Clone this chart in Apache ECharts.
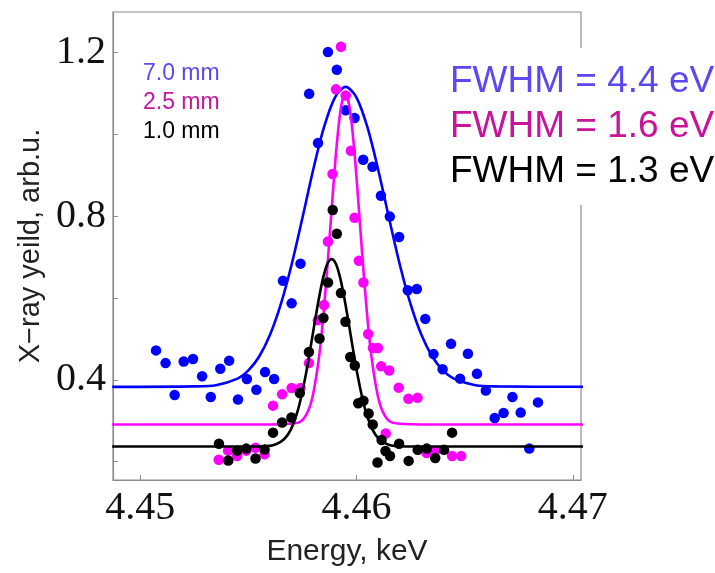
<!DOCTYPE html>
<html>
<head>
<meta charset="utf-8">
<script src="https://cdn.jsdelivr.net/npm/echarts@6/dist/echarts.min.js"></script>
<style>
html,body{margin:0;padding:0;background:#fff;}
#chart{width:715px;height:573px;}
</style>
</head>
<body>
<div id="chart"></div>
<script>
// ---- tick values ----
const xTickValues = [4.45, 4.46, 4.47];
const yTickValues = [0.2, 0.4, 0.6, 0.8, 1.0, 1.2];
const yLabelValues = [0.4, 0.8, 1.2];

// ---- legend / annotation text ----
const seriesNames = ['7.0 mm', '2.5 mm', '1.0 mm'];
const fwhmLabels = ['FWHM = 4.4 eV', 'FWHM = 1.6 eV', 'FWHM = 1.3 eV'];

// ---- measured points: 7.0 mm (blue) ----
const blueDotX = [4.45073,4.45117,4.45159,4.45201,4.45244,4.45286,4.45326,4.45370,4.45411,4.45452,4.45493,4.45537,4.45577,4.45619,4.45660,4.45700,4.45741,4.45781,4.45822,4.45868,4.45909,4.45950,4.45991,4.46031,4.46074,4.46113,4.46154,4.46197,4.46237,4.46279,4.46318,4.46356,4.46398,4.46437,4.46479,4.46515,4.46557,4.46598,4.46639,4.46680,4.46721,4.46759,4.46799,4.46839];
const blueDotY = [0.472,0.441,0.363,0.445,0.451,0.409,0.358,0.427,0.447,0.352,0.402,0.376,0.419,0.402,0.642,0.587,0.684,1.099,0.979,1.201,1.158,1.059,1.040,0.938,0.921,0.850,0.799,0.749,0.619,0.622,0.549,0.463,0.426,0.488,0.403,0.464,0.415,0.374,0.307,0.319,0.358,0.320,0.232,0.345];

// ---- measured points: 2.5 mm (magenta) ----
const magDotX = [4.45363,4.45406,4.45448,4.45490,4.45533,4.45575,4.45614,4.45656,4.45700,4.45741,4.45780,4.45821,4.45850,4.45868,4.45889,4.45905,4.45928,4.45950,4.45974,4.45991,4.46011,4.46032,4.46054,4.46076,4.46099,4.46114,4.46135,4.46151,4.46195,4.46240,4.46282,4.46324,4.46364,4.46442,4.46484];
const magDotY = [0.205,0.227,0.214,0.227,0.234,0.218,0.337,0.365,0.380,0.380,0.441,0.546,0.583,0.738,0.903,1.110,1.214,1.095,0.960,0.796,0.691,0.638,0.512,0.478,0.478,0.433,0.269,0.423,0.381,0.354,0.356,0.221,0.226,0.214,0.214];

// ---- measured points: 1.0 mm (black) ----
const blkDotX = [4.45364,4.45407,4.45448,4.45490,4.45533,4.45575,4.45614,4.45656,4.45699,4.45738,4.45780,4.45829,4.45847,4.45868,4.45890,4.45909,4.45928,4.45949,4.45971,4.45992,4.46008,4.46032,4.46056,4.46075,4.46097,4.46116,4.46134,4.46155,4.46197,4.46241,4.46283,4.46325,4.46364,4.46405,4.46442];
const blkDotY = [0.244,0.203,0.227,0.232,0.208,0.230,0.271,0.296,0.308,0.368,0.468,0.501,0.551,0.638,0.815,0.757,0.612,0.542,0.456,0.435,0.343,0.349,0.318,0.291,0.198,0.253,0.226,0.214,0.244,0.202,0.229,0.232,0.209,0.229,0.271];

// ---- fitted curves ----
const blueFitX = [4.4487,4.4525,4.4535,4.4545,4.4550,4.4555,4.4560,4.4565,4.4570,4.4575,4.4580,4.4585,4.4590,4.4595,4.4600,4.4605,4.4610,4.4615,4.4620,4.4625,4.4630,4.4635,4.4640,4.4645,4.4655,4.4665,4.4705];
const blueFitY = [0.383,0.384,0.387,0.403,0.423,0.457,0.510,0.585,0.682,0.796,0.914,1.018,1.090,1.116,1.090,1.018,0.914,0.796,0.682,0.585,0.510,0.457,0.423,0.403,0.387,0.384,0.383];

const magFitX = [4.4487,4.4560,4.45728,4.45768,4.45798,4.45828,4.45848,4.45868,4.45888,4.45908,4.45928,4.45948,4.45968,4.45988,4.46008,4.46028,4.46048,4.46068,4.46098,4.46128,4.46168,4.4630,4.4705];
const magFitY = [0.291,0.291,0.295,0.315,0.362,0.461,0.565,0.695,0.838,0.971,1.066,1.100,1.066,0.971,0.838,0.695,0.565,0.461,0.362,0.315,0.295,0.291,0.291];

const blkFitX = [4.4487,4.4552,4.45585,4.45625,4.45665,4.45695,4.45725,4.45745,4.45765,4.45785,4.45805,4.45825,4.45845,4.45865,4.45885,4.45905,4.45925,4.45945,4.45965,4.45985,4.46005,4.46025,4.46045,4.46075,4.46105,4.46145,4.46185,4.4625,4.4705];
const blkFitY = [0.237,0.237,0.238,0.242,0.255,0.277,0.319,0.360,0.411,0.471,0.535,0.596,0.648,0.683,0.695,0.683,0.648,0.596,0.535,0.471,0.411,0.360,0.319,0.277,0.255,0.242,0.238,0.237,0.237];

function zip(xs, ys){ return xs.map((x,i)=>[x, ys[i]]); }

const frameColor = '#8c8c8c';
const blue = '#0000ff', magenta = '#ff00ff', black = '#000000';
const blueText = '#5b48f2', magText = '#c8139a';

const chart = echarts.init(document.getElementById('chart'), null, {renderer:'canvas'});
const option = {
  animation: false,
  backgroundColor: '#ffffff',
  grid: {left:113, top:12, width:468, height:468, show:true, borderColor:frameColor, borderWidth:1.2, backgroundColor:'transparent'},
  xAxis: {
    type:'value', min:4.44874, max:4.47038,
    axisLine:{show:true, lineStyle:{color:frameColor, width:1.2}},
    axisTick:{show:true, inside:true, length:5, customValues:xTickValues, lineStyle:{color:frameColor}},
    axisLabel:{customValues:xTickValues, formatter:(v)=>Number(v).toFixed(2), fontFamily:'Liberation Serif', fontSize:40, color:'#111', margin:8},
    splitLine:{show:false},
    name:'Energy, keV', nameLocation:'middle', nameGap:57,
    nameTextStyle:{fontFamily:'Liberation Sans', fontSize:30, color:'#222'}
  },
  yAxis: {
    type:'value', min:0.1553, max:1.299,
    axisLine:{show:true, lineStyle:{color:frameColor, width:1.2}},
    axisTick:{show:true, inside:true, length:5, customValues:yTickValues, lineStyle:{color:frameColor}},
    axisLabel:{customValues:yLabelValues, formatter:(v)=>Number(v).toFixed(1), fontFamily:'Liberation Serif', fontSize:40, color:'#111', margin:7},
    splitLine:{show:false},
    name:'X\u2212ray yeild, arb.u.', nameLocation:'middle', nameGap:66,
    nameTextStyle:{fontFamily:'Liberation Sans', fontSize:29, color:'#222'}
  },
  series: [
    {type:'line', data:zip(blueFitX, blueFitY), showSymbol:false, smooth:0.3, lineStyle:{color:blue, width:2.6}, z:2},
    {type:'scatter', data:zip(blueDotX, blueDotY), symbolSize:10.5, itemStyle:{color:blue, opacity:1}, z:3},
    {type:'line', data:zip(magFitX, magFitY), showSymbol:false, smooth:0.3, lineStyle:{color:magenta, width:2.6}, z:4},
    {type:'scatter', data:zip(magDotX, magDotY), symbolSize:10.5, itemStyle:{color:magenta, opacity:1}, z:5},
    {type:'line', data:zip(blkFitX, blkFitY), showSymbol:false, smooth:0.3, lineStyle:{color:black, width:2.6}, z:6},
    {type:'scatter', data:zip(blkDotX, blkDotY), symbolSize:10.5, itemStyle:{color:black, opacity:1}, z:7}
  ],
  graphic: [
    {type:'text', left:143, top:62, z:100, style:{text:seriesNames[0], fill:blueText, font:'23px "Liberation Sans"'}},
    {type:'text', left:143, top:91, z:100, style:{text:seriesNames[1], fill:magText, font:'23px "Liberation Sans"'}},
    {type:'text', left:143, top:120, z:100, style:{text:seriesNames[2], fill:black, font:'23px "Liberation Sans"'}},
    {type:'rect', shape:{x:444, y:48, width:271, height:157}, style:{fill:'#ffffff'}, z:90},
    {type:'text', left:450, top:63, z:100, style:{text:fwhmLabels[0], fill:blueText, font:'37px "Liberation Sans"'}},
    {type:'text', left:450, top:108, z:100, style:{text:fwhmLabels[1], fill:magText, font:'37px "Liberation Sans"'}},
    {type:'text', left:450, top:153, z:100, style:{text:fwhmLabels[2], fill:black, font:'37px "Liberation Sans"'}}
  ]
};
chart.setOption(option);
</script>
</body>
</html>
